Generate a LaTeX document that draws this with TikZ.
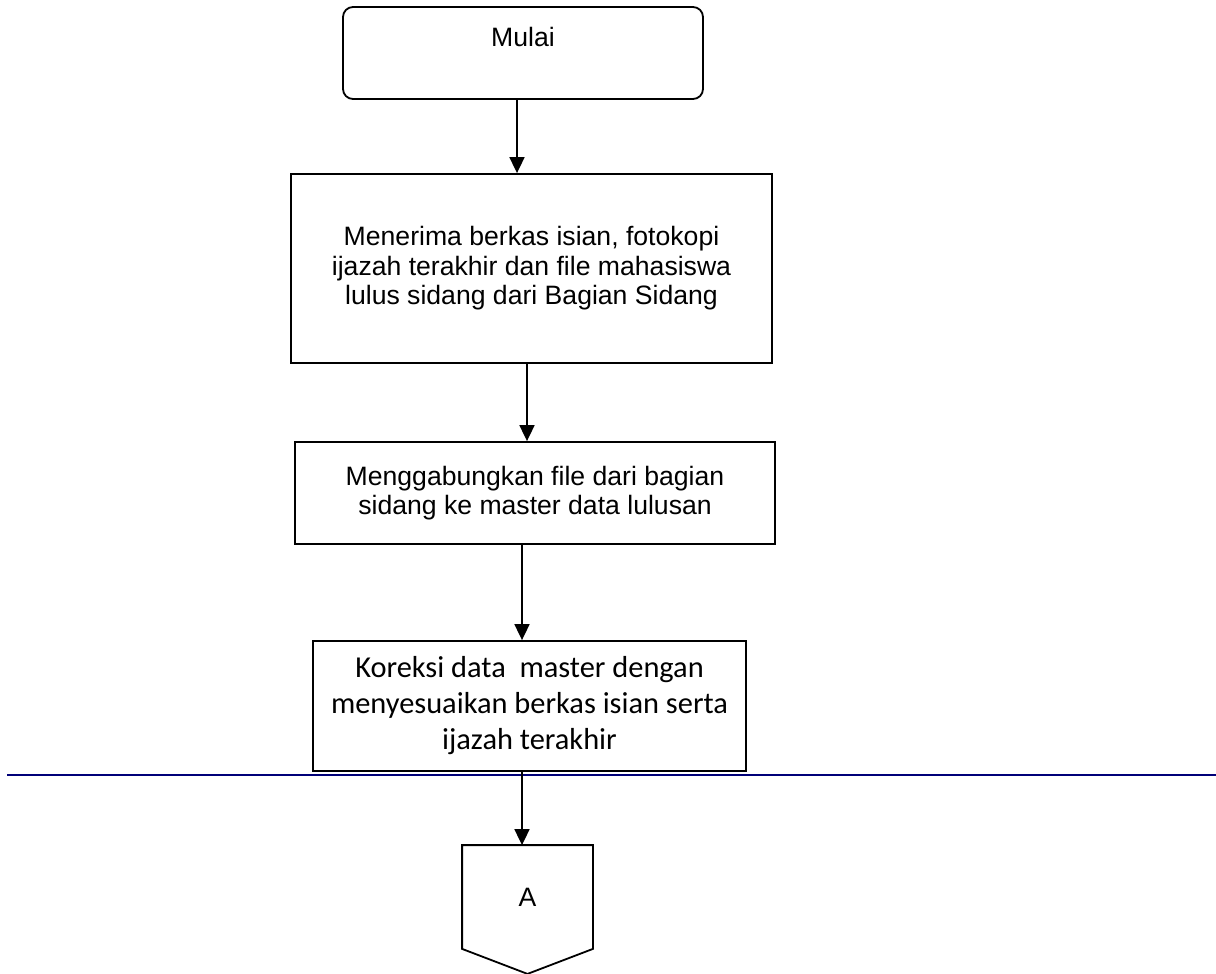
\documentclass[tikz,border=0pt]{standalone}
\usepackage{fontspec}
\setmainfont{Liberation Sans}
\newfontfamily\calibri{Carlito}
\usepackage{tikz}
\usetikzlibrary{arrows.meta}
\definecolor{garisbiru}{RGB}{0,0,120}
\newcommand{\garis}{0.9pt}
\newcommand{\ujung}{12.5pt}

\begin{document}
\begin{tikzpicture}[x=0.5pt,y=-0.5pt]
            \tikzset{proses/.style = {draw, line width=\garis, align=center, inner sep=0pt,
                                      font={\fontsize{13.3}{14.75}\selectfont}}}
            \tikzset{mulaibox/.style = {proses, rounded corners=5pt}}
            \tikzset{panah/.style = {line width=\garis, -{Triangle[length=8pt,width=7.5pt]}}}
            \tikzset{batas/.style = {line width=1pt, draw=garisbiru}}
            \useasboundingbox (0,0) rectangle (1216,974);

            \node[mulaibox, minimum width=180pt, text height=19.75pt, text depth=26.25pt] (mulai) at (523,53) {Mulai};
            \node[proses, minimum width=240.5pt, minimum height=94.5pt] (terima) at (531.5,268.5)
                {Menerima berkas isian, fotokopi\\ijazah terakhir dan file mahasiswa\\lulus sidang dari Bagian Sidang};
            \node[proses, minimum width=240pt, minimum height=51pt] (gabung) at (535,493)
                {Menggabungkan file dari bagian\\sidang ke master data lulusan};
            \node[proses, minimum width=216.5pt, minimum height=65pt,
                  font={\calibri\fontsize{15.2}{18}\selectfont}] (koreksi) at (529.5,706)
                {Koreksi data\ \ master dengan\\menyesuaikan berkas isian serta\\ijazah terakhir};
            \node[proses, draw=none, minimum width=64.5pt, text height=30.25pt, text depth=33.25pt] (konektor) at (527.5,909.5) {A};
            \draw[line width=\garis] (konektor.north west) -- (konektor.north east) -- ([yshift=\ujung]konektor.south east)
                -- (konektor.south) -- ([yshift=\ujung]konektor.south west) -- cycle;

            \draw[batas] (7,775) -- (1216,775);

            \coordinate (p1) at ([xshift=-3pt]mulai.south);
            \coordinate (p2) at ([xshift=-2.25pt]terima.south);
            \coordinate (p3) at ([xshift=-6.5pt]gabung.south);
            \coordinate (p4) at ([xshift=-3.75pt]koreksi.south);
            \draw[panah] (p1) -- (p1 |- terima.north);
            \draw[panah] (p2) -- (p2 |- gabung.north);
            \draw[panah] (p3) -- (p3 |- koreksi.north);
            \draw[panah] (p4) -- (p4 |- konektor.north);
        \end{tikzpicture}
\end{document}
